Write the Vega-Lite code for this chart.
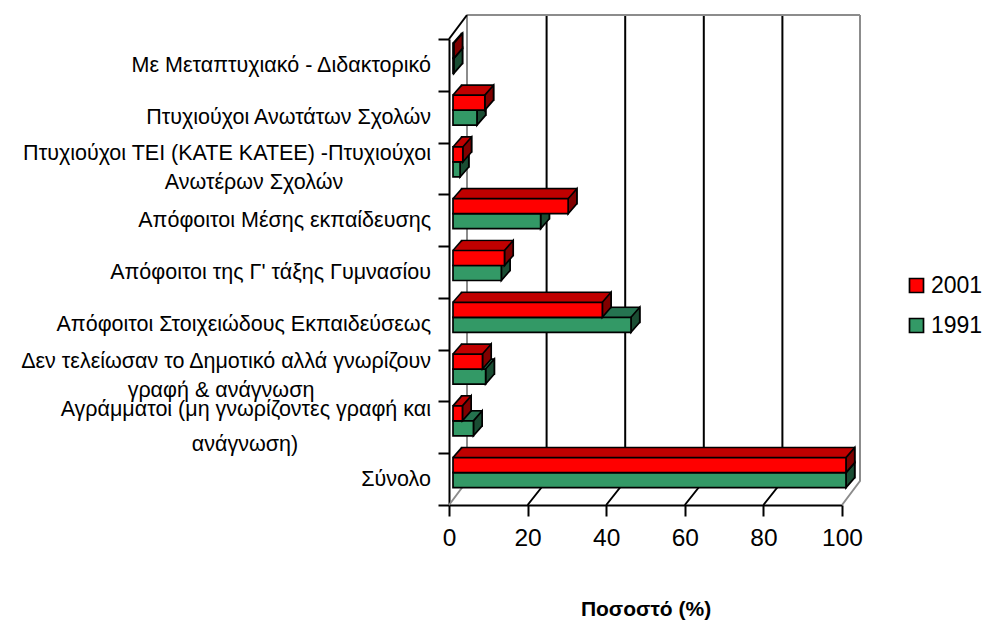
{"$schema":"https://vega.github.io/schema/vega-lite/v6.json","width":393,"height":466,"autosize":{"type":"none"},"padding":{"left":449,"top":39,"right":143,"bottom":116},"background":"white","config":{"view":{"stroke":null},"font":"Liberation Sans"},
"datasets":{"g":[{"category":"Με Μεταπτυχιακό - Διδακτορικό","series":"1991","value":0.2},{"category":"Πτυχιούχοι Ανωτάτων Σχολών","series":"1991","value":6.1},{"category":"Πτυχιούχοι ΤΕΙ","series":"1991","value":1.8},{"category":"Απόφοιτοι Μέσης εκπαίδευσης","series":"1991","value":22.3},{"category":"Απόφοιτοι της Γ' τάξης Γυμνασίου","series":"1991","value":12.3},{"category":"Απόφοιτοι Στοιχειώδους Εκπαιδεύσεως","series":"1991","value":45.3},{"category":"Δεν τελείωσαν το Δημοτικό","series":"1991","value":8.3},{"category":"Αγράμματοι","series":"1991","value":5.2},{"category":"Σύνολο","series":"1991","value":100}],
"r":[{"category":"Με Μεταπτυχιακό - Διδακτορικό","series":"2001","value":0.2},{"category":"Πτυχιούχοι Ανωτάτων Σχολών","series":"2001","value":8.1},{"category":"Πτυχιούχοι ΤΕΙ","series":"2001","value":2.5},{"category":"Απόφοιτοι Μέσης εκπαίδευσης","series":"2001","value":29.3},{"category":"Απόφοιτοι της Γ' τάξης Γυμνασίου","series":"2001","value":13.1},{"category":"Απόφοιτοι Στοιχειώδους Εκπαιδεύσεως","series":"2001","value":38},{"category":"Δεν τελείωσαν το Δημοτικό","series":"2001","value":7.5},{"category":"Αγράμματοι","series":"2001","value":2.4},{"category":"Σύνολο","series":"2001","value":100}],
"blackgrid":[{"t":20},{"t":40},{"t":60},{"t":80}],"graygrid":[{"t":0},{"t":100}],"wall":[{"t":0}],
"labels":[{"category":"Με Μεταπτυχιακό - Διδακτορικό","line":"Με Μεταπτυχιακό - Διδακτορικό"},{"category":"Πτυχιούχοι Ανωτάτων Σχολών","line":"Πτυχιούχοι Ανωτάτων Σχολών"},{"category":"Απόφοιτοι Μέσης εκπαίδευσης","line":"Απόφοιτοι Μέσης εκπαίδευσης"},{"category":"Απόφοιτοι της Γ' τάξης Γυμνασίου","line":"Απόφοιτοι της Γ' τάξης Γυμνασίου"},{"category":"Απόφοιτοι Στοιχειώδους Εκπαιδεύσεως","line":"Απόφοιτοι Στοιχειώδους Εκπαιδεύσεως"},{"category":"Σύνολο","line":"Σύνολο"}],
"lab1":[{"category":"Πτυχιούχοι ΤΕΙ","line":"Πτυχιούχοι ΤΕΙ (ΚΑΤΕ ΚΑΤΕΕ) -Πτυχιούχοι"},{"category":"Δεν τελείωσαν το Δημοτικό","line":"Δεν τελείωσαν το Δημοτικό αλλά γνωρίζουν"}],
"lab1b":[{"category":"Αγράμματοι","line":"Αγράμματοι (μη γνωρίζοντες γραφή και"}],
"l2a":[{"category":"Πτυχιούχοι ΤΕΙ","line":"Ανωτέρων Σχολών"}],"l2b":[{"category":"Δεν τελείωσαν το Δημοτικό","line":"γραφή & ανάγνωση"}],"l2c":[{"category":"Αγράμματοι","line":"ανάγνωση)"}]},
"layer":[
{"data":{"name":"blackgrid"},"mark":{"type":"point","shape":"M0,233L19,209L19,-257","size":4,"filled":false,"stroke":"black","strokeWidth":2,"opacity":1},"encoding":{"x":{"field":"t","type":"quantitative","scale":{"domain":[0,100],"nice":false},"title":"Ποσοστό (%)","axis":{"values":[0,20,40,60,80,100],"grid":false,"domainColor":"black","domainWidth":2,"tickColor":"black","tickWidth":2,"tickSize":11,"labelFont":"Liberation Sans","labelFontSize":24.5,"labelColor":"black","labelPadding":10,"titleFont":"Liberation Sans","titleFontSize":21,"titleFontWeight":"bold","titleColor":"black","titlePadding":49,"labelFlush":false,"labelOverlap":false}}}},
{"data":{"name":"graygrid"},"mark":{"type":"point","shape":"M0,233L18,209L18,-257","size":4,"filled":false,"stroke":"#8c8c8c","strokeWidth":2,"opacity":1},"encoding":{"x":{"field":"t","type":"quantitative"}}},
{"data":{"name":"wall"},"mark":{"type":"point","shape":"M18,-257L411,-257","size":4,"filled":false,"stroke":"#8c8c8c","strokeWidth":2,"opacity":1},"encoding":{"x":{"field":"t","type":"quantitative"}}},
{"data":{"name":"wall"},"mark":{"type":"point","shape":"M0,-233L18,-257","size":4,"filled":false,"stroke":"black","strokeWidth":2,"opacity":1},"encoding":{"x":{"field":"t","type":"quantitative"}}},

{"data":{"name":"g"},"mark":{"type":"bar","size":15,"color":"#267350","stroke":"black","strokeWidth":1.7,"xOffset":12.7,"x2Offset":12.7,"yOffset":-9},"encoding":{"x":{"field":"value","type":"quantitative"},"y":{"field":"category","type":"nominal","title":null,"sort":null,"scale":{"type":"band","paddingInner":0,"paddingOuter":0,"domain":["Με Μεταπτυχιακό - Διδακτορικό","Πτυχιούχοι Ανωτάτων Σχολών","Πτυχιούχοι ΤΕΙ","Απόφοιτοι Μέσης εκπαίδευσης","Απόφοιτοι της Γ' τάξης Γυμνασίου","Απόφοιτοι Στοιχειώδους Εκπαιδεύσεως","Δεν τελείωσαν το Δημοτικό","Αγράμματοι","Σύνολο"]},"axis":{"labels":false,"domainColor":"black","domainWidth":2,"tickColor":"black","tickWidth":2,"tickSize":11,"tickBand":"extent","title":null}}}},
{"data":{"name":"g"},"mark":{"type":"bar","size":15,"color":"#267350","xOffset":11.8,"x2Offset":11.8,"yOffset":-8},"encoding":{"x":{"field":"value","type":"quantitative"},"y":{"field":"category","type":"nominal"}}},
{"data":{"name":"g"},"mark":{"type":"bar","size":15,"color":"#267350","xOffset":11,"x2Offset":11,"yOffset":-7},"encoding":{"x":{"field":"value","type":"quantitative"},"y":{"field":"category","type":"nominal"}}},
{"data":{"name":"g"},"mark":{"type":"bar","size":15,"color":"#267350","xOffset":10.1,"x2Offset":10.1,"yOffset":-6},"encoding":{"x":{"field":"value","type":"quantitative"},"y":{"field":"category","type":"nominal"}}},
{"data":{"name":"g"},"mark":{"type":"bar","size":15,"color":"#267350","xOffset":9.2,"x2Offset":9.2,"yOffset":-5},"encoding":{"x":{"field":"value","type":"quantitative"},"y":{"field":"category","type":"nominal"}}},
{"data":{"name":"g"},"mark":{"type":"bar","size":15,"color":"#267350","xOffset":8.4,"x2Offset":8.4,"yOffset":-4},"encoding":{"x":{"field":"value","type":"quantitative"},"y":{"field":"category","type":"nominal"}}},
{"data":{"name":"g"},"mark":{"type":"bar","size":15,"color":"#267350","xOffset":7.5,"x2Offset":7.5,"yOffset":-3},"encoding":{"x":{"field":"value","type":"quantitative"},"y":{"field":"category","type":"nominal"}}},
{"data":{"name":"g"},"mark":{"type":"bar","size":15,"color":"#267350","xOffset":6.6,"x2Offset":6.6,"yOffset":-2},"encoding":{"x":{"field":"value","type":"quantitative"},"y":{"field":"category","type":"nominal"}}},
{"data":{"name":"g"},"mark":{"type":"bar","size":15,"color":"#267350","xOffset":5.7,"x2Offset":5.7,"yOffset":-1},"encoding":{"x":{"field":"value","type":"quantitative"},"y":{"field":"category","type":"nominal"}}},
{"data":{"name":"g"},"mark":{"type":"bar","size":15,"color":"#267350","xOffset":4.9,"x2Offset":4.9,"yOffset":0},"encoding":{"x":{"field":"value","type":"quantitative"},"y":{"field":"category","type":"nominal"}}},
{"data":{"name":"g"},"mark":{"type":"point","shape":"M0,0L8.7,-10L8.7,5L0,15Z","size":4,"filled":true,"fill":"#1a4d33","stroke":"black","strokeWidth":1.7,"opacity":1,"xOffset":4,"yOffset":-6.5},"encoding":{"x":{"field":"value","type":"quantitative"},"y":{"field":"category","type":"nominal"}}},
{"data":{"name":"g"},"mark":{"type":"point","shape":"M0,0L8.7,-10","size":4,"filled":false,"stroke":"black","strokeWidth":1.7,"opacity":1,"xOffset":4,"yOffset":-6.5},"encoding":{"x":{"datum":0,"type":"quantitative"},"y":{"field":"category","type":"nominal"}}},
{"data":{"name":"g"},"mark":{"type":"bar","size":15,"stroke":"black","strokeWidth":1.7,"xOffset":4,"x2Offset":4,"yOffset":1},"encoding":{"x":{"field":"value","type":"quantitative"},"y":{"field":"category","type":"nominal"},"color":{"field":"series","type":"nominal","scale":{"domain":["2001","1991"],"range":["#ff0000","#339966"]},"legend":{"orient":"none","legendX":456,"legendY":235,"title":null,"symbolType":"square","symbolSize":196,"symbolStrokeColor":"black","symbolStrokeWidth":1.7,"labelFont":"Liberation Sans","labelFontSize":23,"labelColor":"black","rowPadding":16,"labelOffset":3,"symbolOpacity":1}}}},

{"data":{"name":"r"},"mark":{"type":"bar","size":15,"color":"#c00000","stroke":"black","strokeWidth":1.7,"xOffset":12.7,"x2Offset":12.7,"yOffset":-24},"encoding":{"x":{"field":"value","type":"quantitative"},"y":{"field":"category","type":"nominal"}}},
{"data":{"name":"r"},"mark":{"type":"bar","size":15,"color":"#c00000","xOffset":11.8,"x2Offset":11.8,"yOffset":-23},"encoding":{"x":{"field":"value","type":"quantitative"},"y":{"field":"category","type":"nominal"}}},
{"data":{"name":"r"},"mark":{"type":"bar","size":15,"color":"#c00000","xOffset":11,"x2Offset":11,"yOffset":-22},"encoding":{"x":{"field":"value","type":"quantitative"},"y":{"field":"category","type":"nominal"}}},
{"data":{"name":"r"},"mark":{"type":"bar","size":15,"color":"#c00000","xOffset":10.1,"x2Offset":10.1,"yOffset":-21},"encoding":{"x":{"field":"value","type":"quantitative"},"y":{"field":"category","type":"nominal"}}},
{"data":{"name":"r"},"mark":{"type":"bar","size":15,"color":"#c00000","xOffset":9.2,"x2Offset":9.2,"yOffset":-20},"encoding":{"x":{"field":"value","type":"quantitative"},"y":{"field":"category","type":"nominal"}}},
{"data":{"name":"r"},"mark":{"type":"bar","size":15,"color":"#c00000","xOffset":8.4,"x2Offset":8.4,"yOffset":-19},"encoding":{"x":{"field":"value","type":"quantitative"},"y":{"field":"category","type":"nominal"}}},
{"data":{"name":"r"},"mark":{"type":"bar","size":15,"color":"#c00000","xOffset":7.5,"x2Offset":7.5,"yOffset":-18},"encoding":{"x":{"field":"value","type":"quantitative"},"y":{"field":"category","type":"nominal"}}},
{"data":{"name":"r"},"mark":{"type":"bar","size":15,"color":"#c00000","xOffset":6.6,"x2Offset":6.6,"yOffset":-17},"encoding":{"x":{"field":"value","type":"quantitative"},"y":{"field":"category","type":"nominal"}}},
{"data":{"name":"r"},"mark":{"type":"bar","size":15,"color":"#c00000","xOffset":5.7,"x2Offset":5.7,"yOffset":-16},"encoding":{"x":{"field":"value","type":"quantitative"},"y":{"field":"category","type":"nominal"}}},
{"data":{"name":"r"},"mark":{"type":"bar","size":15,"color":"#c00000","xOffset":4.9,"x2Offset":4.9,"yOffset":-15},"encoding":{"x":{"field":"value","type":"quantitative"},"y":{"field":"category","type":"nominal"}}},
{"data":{"name":"r"},"mark":{"type":"point","shape":"M0,0L8.7,-10L8.7,5L0,15Z","size":4,"filled":true,"fill":"#800000","stroke":"black","strokeWidth":1.7,"opacity":1,"xOffset":4,"yOffset":-21.5},"encoding":{"x":{"field":"value","type":"quantitative"},"y":{"field":"category","type":"nominal"}}},
{"data":{"name":"r"},"mark":{"type":"point","shape":"M0,0L8.7,-10","size":4,"filled":false,"stroke":"black","strokeWidth":1.7,"opacity":1,"xOffset":4,"yOffset":-21.5},"encoding":{"x":{"datum":0,"type":"quantitative"},"y":{"field":"category","type":"nominal"}}},
{"data":{"name":"r"},"mark":{"type":"bar","size":15,"stroke":"black","strokeWidth":1.7,"xOffset":4,"x2Offset":4,"yOffset":-14},"encoding":{"x":{"field":"value","type":"quantitative"},"y":{"field":"category","type":"nominal"},"color":{"field":"series","type":"nominal"}}},

{"data":{"name":"labels"},"mark":{"type":"text","align":"right","baseline":"middle","dx":-18,"dy":1,"font":"Liberation Sans","fontSize":21.5,"color":"black"},"encoding":{"x":{"datum":0,"type":"quantitative"},"y":{"field":"category","type":"nominal"},"text":{"field":"line"}}},
{"data":{"name":"lab1"},"mark":{"type":"text","align":"right","baseline":"middle","dx":-18,"dy":-14,"font":"Liberation Sans","fontSize":21.5,"color":"black"},"encoding":{"x":{"datum":0,"type":"quantitative"},"y":{"field":"category","type":"nominal"},"text":{"field":"line"}}},
{"data":{"name":"lab1b"},"mark":{"type":"text","align":"right","baseline":"middle","dx":-18,"dy":-17,"font":"Liberation Sans","fontSize":21.5,"color":"black"},"encoding":{"x":{"datum":0,"type":"quantitative"},"y":{"field":"category","type":"nominal"},"text":{"field":"line"}}},
{"data":{"name":"l2a"},"mark":{"type":"text","align":"center","baseline":"middle","dx":-195,"dy":15,"font":"Liberation Sans","fontSize":21.5,"color":"black"},"encoding":{"x":{"datum":0,"type":"quantitative"},"y":{"field":"category","type":"nominal"},"text":{"field":"line"}}},
{"data":{"name":"l2b"},"mark":{"type":"text","align":"center","baseline":"middle","dx":-228,"dy":15,"font":"Liberation Sans","fontSize":21.5,"color":"black"},"encoding":{"x":{"datum":0,"type":"quantitative"},"y":{"field":"category","type":"nominal"},"text":{"field":"line"}}},
{"data":{"name":"l2c"},"mark":{"type":"text","align":"center","baseline":"middle","dx":-204,"dy":18,"font":"Liberation Sans","fontSize":21.5,"color":"black"},"encoding":{"x":{"datum":0,"type":"quantitative"},"y":{"field":"category","type":"nominal"},"text":{"field":"line"}}}
]}
